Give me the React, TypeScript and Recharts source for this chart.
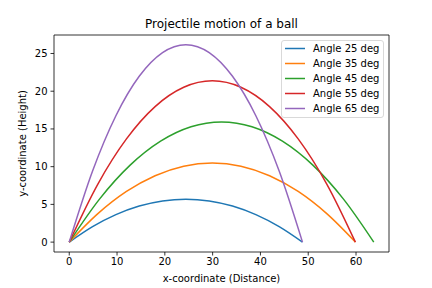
import React from 'react';
import { LineChart, Line, XAxis, YAxis, ReferenceArea } from 'recharts';

// trajectory points, one pair of arrays per launch angle
const angles = [25, 35, 45, 55, 65];
const colors = ['#1f77b4', '#ff7f0e', '#2ca02c', '#d62728', '#9467bd'];

const x25 = [0, 4.88, 9.76, 14.64, 19.52, 24.4, 29.28, 34.16, 39.04, 43.92, 48.8];
const y25 = [0, 2.05, 3.64, 4.78, 5.46, 5.69, 5.46, 4.78, 3.64, 2.05, 0];
const x35 = [0, 5.99, 11.97, 17.96, 23.95, 29.94, 35.92, 41.91, 47.9, 53.88, 59.87];
const y35 = [0, 3.77, 6.71, 8.8, 10.06, 10.48, 10.06, 8.8, 6.71, 3.77, 0];
const x45 = [0, 6.37, 12.74, 19.11, 25.48, 31.86, 38.23, 44.6, 50.97, 57.34, 63.71];
const y45 = [0, 5.73, 10.2, 13.38, 15.29, 15.93, 15.29, 13.38, 10.2, 5.73, 0];
const x55 = [0, 5.99, 11.97, 17.96, 23.95, 29.94, 35.92, 41.91, 47.9, 53.88, 59.87];
const y55 = [0, 7.7, 13.68, 17.96, 20.52, 21.38, 20.52, 17.96, 13.68, 7.7, 0];
const x65 = [0, 4.88, 9.76, 14.64, 19.52, 24.4, 29.28, 34.16, 39.04, 43.92, 48.8];
const y65 = [0, 9.42, 16.75, 21.98, 25.12, 26.17, 25.12, 21.98, 16.75, 9.42, 0];

const xTicks = [0, 10, 20, 30, 40, 50, 60];
const yTicks = [0, 5, 10, 15, 20, 25];

const xs = [x25, x35, x45, x55, x65];
const ys = [y25, y35, y45, y55, y65];
const series = angles.map((a, i) => ({
  name: `Angle ${a} deg`,
  color: colors[i],
  data: xs[i].map((x, j) => ({ x, y: ys[i][j] })),
}));

const X_DOMAIN = [-3.19, 66.9];
const Y_DOMAIN = [-1.31, 27.45];
const font = 'DejaVu Sans, sans-serif';

const LegendBox = () => (
  <div
    style={{
      position: 'absolute',
      left: 281,
      top: 40,
      width: 103,
      height: 78,
      boxSizing: 'border-box',
      border: '1px solid #d9d9d9',
      borderRadius: 3,
      background: 'rgba(255,255,255,0.8)',
      padding: '0 0 0 3px',
      fontFamily: font,
      fontSize: 10,
      color: '#000',
    }}
  >
    {series.map((s) => (
      <div key={s.name} style={{ display: 'flex', alignItems: 'center', height: 15 }}>
        <svg width={20} height={15} style={{ marginRight: 8, flex: 'none' }}>
          <line x1={0} x2={20} y1={7.5} y2={7.5} stroke={s.color} strokeWidth={1.5} />
        </svg>
        <span>{s.name}</span>
      </div>
    ))}
  </div>
);

export default function App() {
  return (
    <div style={{ position: 'absolute', left: 0, top: 0, width: 432, height: 288, background: '#fff' }}>
      <div
        style={{
          position: 'absolute',
          left: 54,
          width: 335,
          top: 17,
          textAlign: 'center',
          fontFamily: font,
          fontSize: 12,
          lineHeight: '14px',
          color: '#000',
        }}
      >
        Projectile motion of a ball
      </div>
      <LineChart width={432} height={288} margin={{ top: 35, right: 43, bottom: 0, left: 0 }}>
        <XAxis
          type="number"
          dataKey="x"
          domain={X_DOMAIN}
          ticks={xTicks}
          allowDataOverflow
          height={36}
          tickSize={3.5}
          tickMargin={2}
          axisLine={false}
          tickLine={{ stroke: '#000', strokeWidth: 0.8 }}
          tick={{ fill: '#000', fontSize: 10, fontFamily: font }}
          label={{ value: 'x-coordinate (Distance)', position: 'insideBottom', offset: 6, fill: '#000', fontSize: 10, fontFamily: font }}
        />
        <YAxis
          type="number"
          dataKey="y"
          domain={Y_DOMAIN}
          ticks={yTicks}
          allowDataOverflow
          width={54}
          tickSize={3.5}
          tickMargin={3}
          axisLine={false}
          tickLine={{ stroke: '#000', strokeWidth: 0.8 }}
          tick={{ fill: '#000', fontSize: 10, fontFamily: font }}
          label={{
            content: () => (
              <text
                x={22}
                y={143.5}
                transform="rotate(-90 22 143.5)"
                textAnchor="middle"
                dominantBaseline="central"
                fill="#000"
                fontSize={10}
                fontFamily={font}
              >
                y-coordinate (Height)
              </text>
            ),
          }}
        />
        {series.map((s) => (
          <Line
            key={s.name}
            data={s.data}
            dataKey="y"
            name={s.name}
            type="monotone"
            stroke={s.color}
            strokeWidth={1.5}
            dot={false}
            activeDot={false}
            isAnimationActive={false}
          />
        ))}
        <ReferenceArea
          x1={X_DOMAIN[0]}
          x2={X_DOMAIN[1]}
          y1={Y_DOMAIN[0]}
          y2={Y_DOMAIN[1]}
          fill="none"
          stroke="#000"
          strokeWidth={0.8}
          ifOverflow="visible"
        />
      </LineChart>
      <LegendBox />
    </div>
  );
}
